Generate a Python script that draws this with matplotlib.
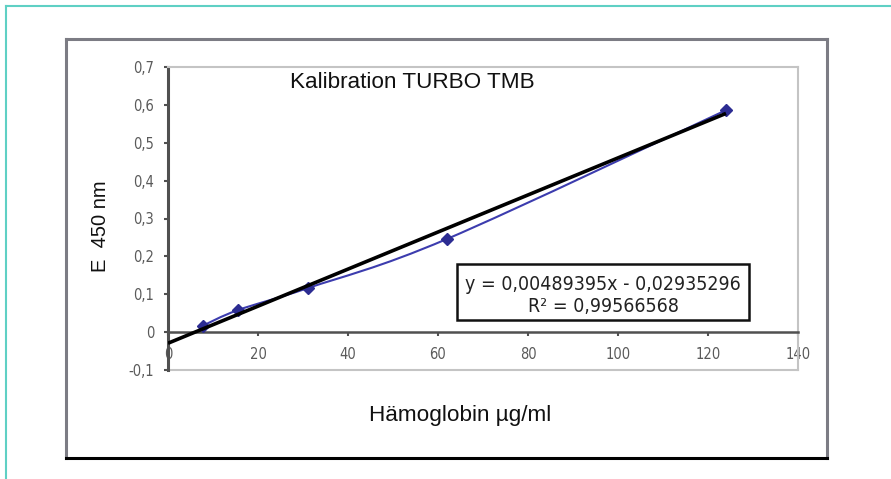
import matplotlib
matplotlib.use("Agg")
import matplotlib.pyplot as plt
import numpy as np
from matplotlib.path import Path
from matplotlib.patches import PathPatch, Rectangle
from matplotlib.lines import Line2D

# data
conc = [7.75, 15.5, 31.0, 62.0, 124.0]
extinction = [0.017, 0.058, 0.116, 0.246, 0.586]
slope = 0.00489395
intercept = -0.02935296
r2 = 0.99566568
xticks = [0, 20, 40, 60, 80, 100, 120, 140]
yticks = [-0.1, 0, 0.1, 0.2, 0.3, 0.4, 0.5, 0.6, 0.7]

W, H = 891, 479
plain = ['Liberation Sans', 'DejaVu Sans']

fig = plt.figure(figsize=(W / 100, H / 100), dpi=100)

def fx(px):
    return px / W

def fy(py):
    return 1 - py / H

# teal page border
fig.add_artist(Line2D([fx(6), 1], [fy(6), fy(6)], color="#5fd0c4", lw=1.5))
fig.add_artist(Line2D([fx(6), fx(6)], [0, fy(6)], color="#5fd0c4", lw=1.5))

# outer chart frame
fig.add_artist(Line2D([fx(66), fx(827)], [fy(39), fy(39)], color="#7c7c84", lw=2.2))
fig.add_artist(Line2D([fx(66), fx(66)], [fy(39), fy(458)], color="#7c7c84", lw=2.2))
fig.add_artist(Line2D([fx(827), fx(827)], [fy(39), fy(458)], color="#7c7c84", lw=2.2))
fig.add_artist(Line2D([fx(66), fx(827)], [fy(458), fy(458)], color="black", lw=2.2))

ax = fig.add_axes([fx(168), fy(370), fx(798 - 168), (370 - 67) / H])
ax.set_xlim(0, 140)
ax.set_ylim(-0.1, 0.7)

# smooth line through the points (Bezier, like Excel)
pts = np.column_stack([conc, extinction])
verts = [tuple(pts[0])]
codes = [Path.MOVETO]
n = len(pts)
for i in range(n - 1):
    p0 = pts[i - 1] if i > 0 else pts[i]
    p1 = pts[i]
    p2 = pts[i + 1]
    p3 = pts[i + 2] if i + 2 < n else pts[i + 1]
    c1 = p1 + (p2 - p0) / 6
    c2 = p2 - (p3 - p1) / 6
    verts += [tuple(c1), tuple(c2), tuple(p2)]
    codes += [Path.CURVE4] * 3
ax.add_patch(PathPatch(Path(verts, codes), fill=False, edgecolor="#3c3cae", lw=1.5, zorder=3))
ax.plot(conc, extinction, linestyle="none", marker="D", ms=6, color="#2c2c92", zorder=4)

# linear trendline
tx = np.array([0, max(conc)])
ax.plot(tx, slope * tx + intercept, color="black", lw=2.6, zorder=5, solid_capstyle="butt")

# axes styling
for s in ["top", "right"]:
    ax.spines[s].set_color("#c4c4c4")
    ax.spines[s].set_linewidth(1.5)
ax.spines["left"].set_color("#505050")
ax.spines["left"].set_linewidth(2.2)
ax.spines["bottom"].set_position(("data", 0))
ax.spines["bottom"].set_color("#505050")
ax.spines["bottom"].set_linewidth(1.8)
ax.axhline(-0.1, color="#c4c4c4", lw=1.5, clip_on=False)

ax.set_xticks(xticks)
ax.set_yticks(yticks)
ax.set_xticklabels([str(v) for v in xticks], family="DejaVu Sans", fontstretch="condensed",
                   fontsize=10.5, color="#5a5a5a")
ax.set_yticklabels([("%g" % v).replace(".", ",") for v in yticks], family="DejaVu Sans",
                   fontstretch="condensed", fontsize=10.5, color="#5a5a5a")
ax.tick_params(axis="x", direction="out", length=3, width=1.5, color="#505050", pad=8)
ax.tick_params(axis="y", direction="out", length=3, width=1.5, color="#505050", pad=7)

# texts
fig.text(fx(412), fy(83), "Kalibration TURBO TMB", family=plain, fontsize=16.2,
         ha="center", va="center", color="#111111")
fig.text(fx(100), fy(226), "E  450 nm", family=plain, fontsize=14.5,
         rotation=90, ha="center", va="center", color="#111111")
fig.text(fx(460), fy(416), "Hämoglobin µg/ml", family=plain, fontsize=16.2,
         ha="center", va="center", color="#111111")

# equation box
fig.add_artist(Rectangle((fx(457), fy(320)), fx(749 - 457), (320 - 264) / H,
                         transform=fig.transFigure, fill=True, facecolor="white",
                         edgecolor="#111111", lw=1.8, zorder=6))
eq = "y = " + ("%.8f" % slope).replace(".", ",") + "x - " + ("%.8f" % -intercept).replace(".", ",")
fig.text(fx(603), fy(284), eq, family="DejaVu Sans", fontstretch="condensed", fontsize=14,
         ha="center", va="center", color="#222222", zorder=7)
fig.text(fx(603), fy(307), "R² = " + ("%.8f" % r2).replace(".", ","), family="DejaVu Sans",
         fontstretch="condensed", fontsize=14, ha="center", va="center", color="#222222", zorder=7)

fig.savefig("out.png", dpi=100)
